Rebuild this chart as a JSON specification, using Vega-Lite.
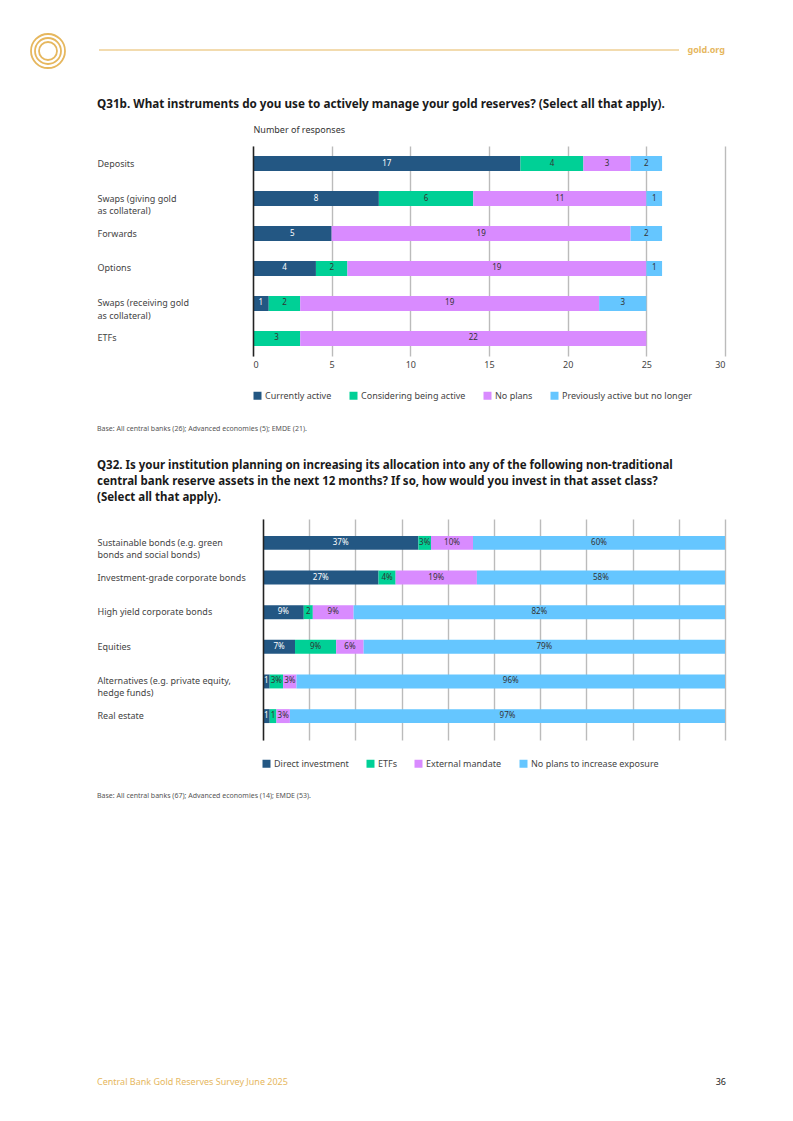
{
  "$schema": "https://vega.github.io/schema/vega-lite/v6.json",
  "background": "white",
  "padding": {"left": 27, "top": 30, "right": 0, "bottom": 0},
  "autosize": {"type": "pad"},
  "spacing": 27,
  "resolve": {"scale": {"color": "independent"}, "legend": {"color": "independent"}},
  "config": {
    "font": "Noto Sans",
    "view": {"stroke": null},
    "title": {"color": "#1a1a1a"}
  },
  "datasets": {
    "q31": [
      {"inst": "Deposits", "resp": "Currently active", "o": 1, "n": 17},
      {"inst": "Deposits", "resp": "Considering being active", "o": 2, "n": 4},
      {"inst": "Deposits", "resp": "No plans", "o": 3, "n": 3},
      {"inst": "Deposits", "resp": "Previously active but no longer", "o": 4, "n": 2},
      {"inst": "Swaps (giving gold|as collateral)", "resp": "Currently active", "o": 1, "n": 8},
      {"inst": "Swaps (giving gold|as collateral)", "resp": "Considering being active", "o": 2, "n": 6},
      {"inst": "Swaps (giving gold|as collateral)", "resp": "No plans", "o": 3, "n": 11},
      {"inst": "Swaps (giving gold|as collateral)", "resp": "Previously active but no longer", "o": 4, "n": 1},
      {"inst": "Forwards", "resp": "Currently active", "o": 1, "n": 5},
      {"inst": "Forwards", "resp": "No plans", "o": 3, "n": 19},
      {"inst": "Forwards", "resp": "Previously active but no longer", "o": 4, "n": 2},
      {"inst": "Options", "resp": "Currently active", "o": 1, "n": 4},
      {"inst": "Options", "resp": "Considering being active", "o": 2, "n": 2},
      {"inst": "Options", "resp": "No plans", "o": 3, "n": 19},
      {"inst": "Options", "resp": "Previously active but no longer", "o": 4, "n": 1},
      {"inst": "Swaps (receiving gold|as collateral)", "resp": "Currently active", "o": 1, "n": 1},
      {"inst": "Swaps (receiving gold|as collateral)", "resp": "Considering being active", "o": 2, "n": 2},
      {"inst": "Swaps (receiving gold|as collateral)", "resp": "No plans", "o": 3, "n": 19},
      {"inst": "Swaps (receiving gold|as collateral)", "resp": "Previously active but no longer", "o": 4, "n": 3},
      {"inst": "ETFs", "resp": "Considering being active", "o": 2, "n": 3},
      {"inst": "ETFs", "resp": "No plans", "o": 3, "n": 22}
    ],
    "q32": [
      {"asset": "Sustainable bonds (e.g. green|bonds and social bonds)", "kind": "Direct investment", "o": 1, "v": 37, "lab": "37%"},
      {"asset": "Sustainable bonds (e.g. green|bonds and social bonds)", "kind": "ETFs", "o": 2, "v": 3, "lab": "3%"},
      {"asset": "Sustainable bonds (e.g. green|bonds and social bonds)", "kind": "External mandate", "o": 3, "v": 10, "lab": "10%"},
      {"asset": "Sustainable bonds (e.g. green|bonds and social bonds)", "kind": "No plans to increase exposure", "o": 4, "v": 60, "lab": "60%"},
      {"asset": "Investment-grade corporate bonds", "kind": "Direct investment", "o": 1, "v": 27, "lab": "27%"},
      {"asset": "Investment-grade corporate bonds", "kind": "ETFs", "o": 2, "v": 4, "lab": "4%"},
      {"asset": "Investment-grade corporate bonds", "kind": "External mandate", "o": 3, "v": 19, "lab": "19%"},
      {"asset": "Investment-grade corporate bonds", "kind": "No plans to increase exposure", "o": 4, "v": 58, "lab": "58%"},
      {"asset": "High yield corporate bonds", "kind": "Direct investment", "o": 1, "v": 9, "lab": "9%"},
      {"asset": "High yield corporate bonds", "kind": "ETFs", "o": 2, "v": 2, "lab": "2"},
      {"asset": "High yield corporate bonds", "kind": "External mandate", "o": 3, "v": 9, "lab": "9%"},
      {"asset": "High yield corporate bonds", "kind": "No plans to increase exposure", "o": 4, "v": 82, "lab": "82%"},
      {"asset": "Equities", "kind": "Direct investment", "o": 1, "v": 7, "lab": "7%"},
      {"asset": "Equities", "kind": "ETFs", "o": 2, "v": 9, "lab": "9%"},
      {"asset": "Equities", "kind": "External mandate", "o": 3, "v": 6, "lab": "6%"},
      {"asset": "Equities", "kind": "No plans to increase exposure", "o": 4, "v": 79, "lab": "79%"},
      {"asset": "Alternatives (e.g. private equity,|hedge funds)", "kind": "Direct investment", "o": 1, "v": 1.5, "lab": "1"},
      {"asset": "Alternatives (e.g. private equity,|hedge funds)", "kind": "ETFs", "o": 2, "v": 3, "lab": "3%"},
      {"asset": "Alternatives (e.g. private equity,|hedge funds)", "kind": "External mandate", "o": 3, "v": 3, "lab": "3%"},
      {"asset": "Alternatives (e.g. private equity,|hedge funds)", "kind": "No plans to increase exposure", "o": 4, "v": 96, "lab": "96%"},
      {"asset": "Real estate", "kind": "Direct investment", "o": 1, "v": 1.5, "lab": "1"},
      {"asset": "Real estate", "kind": "ETFs", "o": 2, "v": 1.5, "lab": "1"},
      {"asset": "Real estate", "kind": "External mandate", "o": 3, "v": 3, "lab": "3%"},
      {"asset": "Real estate", "kind": "No plans to increase exposure", "o": 4, "v": 97, "lab": "97%"}
    ]
  },
  "vconcat": [
    {
      "width": 472,
      "height": 38,
      "data": {"values": [{"site": "gold.org"}]},
      "layer": [
        {
          "mark": {"type": "point", "shape": "circle", "filled": false, "stroke": "#E6B75E", "strokeWidth": 1.8, "size": 1156, "opacity": 1},
          "encoding": {
            "x": {"datum": -205, "type": "quantitative", "scale": {"domain": [0, 472], "nice": false, "zero": false}, "axis": null},
            "y": {"datum": 17, "type": "quantitative", "scale": {"domain": [0, 38], "reverse": true, "nice": false, "zero": false}, "axis": null}
          }
        },
        {
          "mark": {"type": "point", "shape": "circle", "filled": false, "stroke": "#E6B75E", "strokeWidth": 1.8, "size": 676, "opacity": 1},
          "encoding": {
            "x": {"datum": -205, "type": "quantitative"},
            "y": {"datum": 17, "type": "quantitative"}
          }
        },
        {
          "mark": {"type": "point", "shape": "circle", "filled": false, "stroke": "#E6B75E", "strokeWidth": 1.8, "size": 324, "opacity": 1},
          "encoding": {
            "x": {"datum": -205, "type": "quantitative"},
            "y": {"datum": 17, "type": "quantitative"}
          }
        },
        {
          "mark": {"type": "rule", "color": "#E6B75E", "strokeWidth": 1},
          "encoding": {
            "x": {"datum": -154, "type": "quantitative"},
            "x2": {"datum": 426},
            "y": {"datum": 16, "type": "quantitative"}
          }
        },
        {
          "mark": {"type": "text", "align": "right", "baseline": "middle", "fontSize": 9, "fontWeight": "bold", "color": "#E6B75E"},
          "encoding": {
            "x": {"datum": 472, "type": "quantitative"},
            "y": {"datum": 16, "type": "quantitative"},
            "text": {"field": "site"}
          }
        }
      ]
    },
    {
      "title": {"text": "Q31b. What instruments do you use to actively manage your gold reserves? (Select all that apply).", "anchor": "start", "frame": "bounds", "fontSize": 11.7, "fontWeight": "bold", "offset": 14},
      "vconcat": [
        {
          "width": 472,
          "height": 210,
          "data": {"name": "q31"},
          "title": {"text": "Base: All central banks (26); Advanced economies (5); EMDE (21).", "orient": "bottom", "anchor": "start", "frame": "bounds", "fontSize": 7, "fontWeight": "normal", "color": "#555555", "offset": 56},
          "transform": [
            {"stack": "n", "groupby": ["inst"], "sort": [{"field": "o", "order": "ascending"}], "as": ["x0", "x1"]},
            {"calculate": "(datum.x0 + datum.x1) / 2", "as": "xm"}
          ],
          "encoding": {
            "y": {
              "field": "inst", "type": "nominal",
              "sort": ["Deposits", "Swaps (giving gold|as collateral)", "Forwards", "Options", "Swaps (receiving gold|as collateral)", "ETFs"],
              "scale": {"paddingInner": 0.571, "paddingOuter": 0.286},
              "axis": {"title": null, "domain": true, "domainColor": "#222222", "domainWidth": 1.5, "ticks": false, "tickSize": 0, "labelAlign": "left", "labelBaseline": "middle", "labelPadding": 156, "labelFontSize": 9, "labelColor": "#444444", "labelLimit": 200, "labelLineHeight": 12.5, "labelExpr": "split(datum.label, '|')", "zindex": 1}
            }
          },
          "layer": [
            {
              "mark": {"type": "bar"},
              "encoding": {
                "x": {"field": "x0", "type": "quantitative", "scale": {"domain": [0, 30], "nice": false}, "axis": {"values": [0, 5, 10, 15, 20, 25, 30], "grid": true, "gridColor": "#BBBBBB", "gridWidth": 1.4, "domain": false, "ticks": false, "labelFontSize": 9, "labelColor": "#444444", "labelPadding": 4, "title": null}},
                "x2": {"field": "x1"},
                "color": {
                  "field": "resp", "type": "nominal",
                  "scale": {"domain": ["Currently active", "Considering being active", "No plans", "Previously active but no longer"], "range": ["#235783", "#00D096", "#D98BFF", "#65C6FF"]},
                  "legend": {"orient": "none", "legendX": 0, "legendY": 245, "direction": "horizontal", "title": null, "symbolType": "square", "symbolSize": 64, "symbolStrokeWidth": 0, "labelFontSize": 9, "labelColor": "#444444", "columnPadding": 17, "labelOffset": 3}
                }
              }
            },
            {
              "mark": {"type": "text", "fontSize": 8, "align": "center", "baseline": "middle"},
              "encoding": {
                "x": {"field": "xm", "type": "quantitative", "axis": {"orient": "top", "title": "Number of responses", "labels": false, "ticks": false, "domain": false, "grid": false, "titleAnchor": "start", "titleAlign": "left", "titleFontSize": 9, "titleFontWeight": "normal", "titleColor": "#333333", "titlePadding": 12}},
                "text": {"field": "n"},
                "color": {"condition": {"test": "datum.o == 1", "value": "#ffffff"}, "value": "#333333"}
              }
            }
          ],
          "resolve": {"axis": {"x": "independent"}}
        }
      ]
    },
    {
      "title": {"text": ["Q32. Is your institution planning on increasing its allocation into any of the following non-traditional", "central bank reserve assets in the next 12 months? If so, how would you invest in that asset class?", "(Select all that apply)."], "anchor": "start", "frame": "bounds", "fontSize": 11.5, "fontWeight": "bold", "lineHeight": 16, "offset": 16},
      "vconcat": [
        {
          "width": 472,
          "height": 221,
          "data": {"name": "q32"},
          "title": {"text": "Base: All central banks (67); Advanced economies (14); EMDE (53).", "orient": "bottom", "anchor": "start", "frame": "bounds", "fontSize": 7, "fontWeight": "normal", "color": "#555555", "offset": 52},
          "transform": [
            {"stack": "v", "groupby": ["asset"], "offset": "normalize", "sort": [{"field": "o", "order": "ascending"}], "as": ["x0", "x1"]},
            {"calculate": "(datum.x0 + datum.x1) / 2", "as": "xm"}
          ],
          "encoding": {
            "y": {
              "field": "asset", "type": "nominal",
              "sort": ["Sustainable bonds (e.g. green|bonds and social bonds)", "Investment-grade corporate bonds", "High yield corporate bonds", "Equities", "Alternatives (e.g. private equity,|hedge funds)", "Real estate"],
              "scale": {"paddingInner": 0.598, "paddingOuter": 0.489},
              "axis": {"title": null, "offset": -10, "domain": true, "domainColor": "#222222", "domainWidth": 1.5, "ticks": false, "tickSize": 0, "labelAlign": "left", "labelBaseline": "middle", "labelPadding": 166, "labelFontSize": 9, "labelColor": "#444444", "labelLimit": 200, "labelLineHeight": 12, "labelExpr": "split(datum.label, '|')", "zindex": 1}
            }
          },
          "layer": [
            {
              "mark": {"type": "bar"},
              "encoding": {
                "x": {"field": "x0", "type": "quantitative", "scale": {"domain": [0, 1], "nice": false, "range": [10, 472]}, "axis": {"values": [0, 0.1, 0.2, 0.3, 0.4, 0.5, 0.6, 0.7, 0.8, 0.9, 1], "grid": true, "gridColor": "#BBBBBB", "gridWidth": 1.4, "domain": false, "ticks": false, "labels": false, "title": null}},
                "x2": {"field": "x1"},
                "color": {
                  "field": "kind", "type": "nominal",
                  "scale": {"domain": ["Direct investment", "ETFs", "External mandate", "No plans to increase exposure"], "range": ["#235783", "#00D096", "#D98BFF", "#65C6FF"]},
                  "legend": {"orient": "none", "legendX": 9, "legendY": 240, "direction": "horizontal", "title": null, "symbolType": "square", "symbolSize": 64, "symbolStrokeWidth": 0, "labelFontSize": 9, "labelColor": "#444444", "columnPadding": 17, "labelOffset": 3}
                }
              }
            },
            {
              "mark": {"type": "text", "fontSize": 8, "align": "center", "baseline": "middle"},
              "encoding": {
                "x": {"field": "xm", "type": "quantitative"},
                "text": {"field": "lab"},
                "color": {"condition": {"test": "datum.o == 1", "value": "#ffffff"}, "value": "#333333"}
              }
            }
          ]
        }
      ]
    },
    {
      "width": 472,
      "height": 265,
      "data": {"values": [{"left": "Central Bank Gold Reserves Survey June 2025", "page": "36"}]},
      "layer": [
        {
          "mark": {"type": "text", "align": "left", "baseline": "middle", "fontSize": 9, "color": "#E6B75E"},
          "encoding": {
            "x": {"datum": -156, "type": "quantitative", "scale": {"domain": [0, 472], "nice": false, "zero": false}, "axis": null},
            "y": {"datum": 256, "type": "quantitative", "scale": {"domain": [0, 265], "reverse": true, "nice": false, "zero": false}, "axis": null},
            "text": {"field": "left"}
          }
        },
        {
          "mark": {"type": "text", "align": "right", "baseline": "middle", "fontSize": 9, "color": "#222222"},
          "encoding": {
            "x": {"datum": 473, "type": "quantitative"},
            "y": {"datum": 256, "type": "quantitative"},
            "text": {"field": "page"}
          }
        }
      ]
    }
  ]
}
